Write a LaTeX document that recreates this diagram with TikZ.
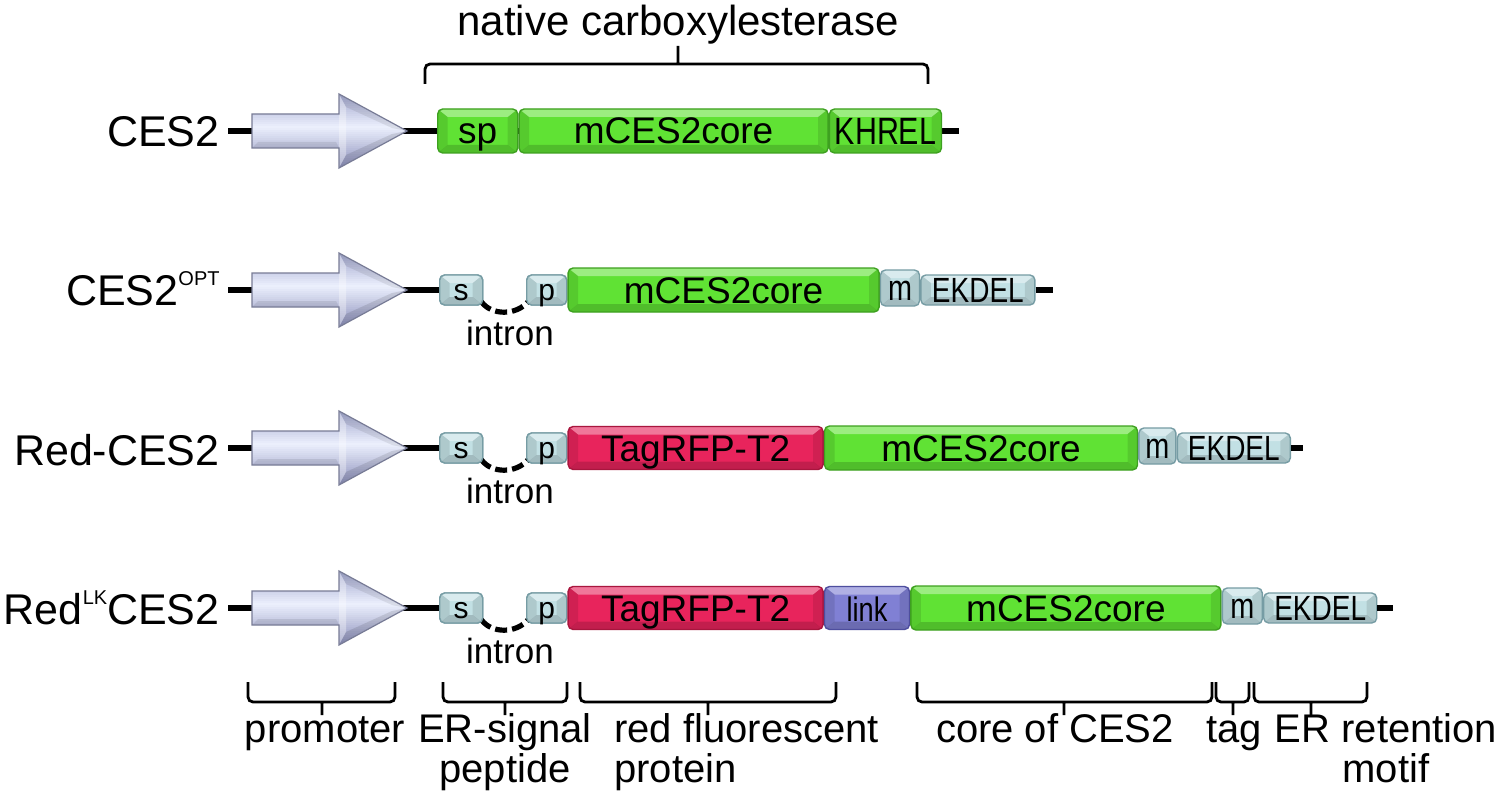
\documentclass[tikz,border=0pt]{standalone}
\usepackage{fontspec}
\setmainfont{Liberation Sans}
\newfontfamily\narrowf[FakeStretch=0.8]{Liberation Sans}
\definecolor{gfill}{RGB}{96,226,52}
\definecolor{gdraw}{RGB}{62,160,32}
\definecolor{rfill}{RGB}{232,36,92}
\definecolor{rdraw}{RGB}{168,22,62}
\definecolor{bfill}{RGB}{194,224,228}
\definecolor{bdraw}{RGB}{118,156,164}
\definecolor{lfill}{RGB}{128,128,212}
\definecolor{ldraw}{RGB}{78,78,158}
\definecolor{atop}{RGB}{160,165,205}
\definecolor{amid}{RGB}{236,240,253}
\definecolor{abot}{RGB}{138,142,186}
\definecolor{aedge}{RGB}{120,124,150}
\newcommand\bevelfacets{%
 \fill[white,opacity=.38,sharp corners] (path picture bounding box.north west) -- (path picture bounding box.north east) -- ([shift={(-5pt,-4pt)}]path picture bounding box.north east) -- ([shift={(5pt,-4pt)}]path picture bounding box.north west) -- cycle;
 \fill[black,opacity=.16,sharp corners] (path picture bounding box.south west) -- (path picture bounding box.south east) -- ([shift={(-5pt,4pt)}]path picture bounding box.south east) -- ([shift={(5pt,4pt)}]path picture bounding box.south west) -- cycle;
 \fill[black,opacity=.10,sharp corners] (path picture bounding box.north west) -- ([shift={(5pt,-4pt)}]path picture bounding box.north west) -- ([shift={(5pt,4pt)}]path picture bounding box.south west) -- (path picture bounding box.south west) -- cycle;
 \fill[black,opacity=.10,sharp corners] (path picture bounding box.north east) -- ([shift={(-5pt,-4pt)}]path picture bounding box.north east) -- ([shift={(-5pt,4pt)}]path picture bounding box.south east) -- (path picture bounding box.south east) -- cycle;}
\newcommand\promarrow[1]{%
 \begin{scope}
 \clip (252,#1-17) -- (339,#1-17) -- (339,#1-37) -- (407,#1) -- (339,#1+37) -- (339,#1+17) -- (252,#1+17) -- cycle;
 \foreach \i in {0,...,36}{%
   \pgfmathsetmacro\tt{(\i+0.5)/37}%
   \ifdim\tt pt<0.45pt
     \pgfmathtruncatemacro\pp{\tt/0.45*100}%
     \fill[amid!\pp!atop] (250,#1-37+2*\i) rectangle (410,#1-37+2*\i+2.4);
   \else
     \pgfmathtruncatemacro\pp{(\tt-0.45)/0.55*100}%
     \fill[abot!\pp!amid] (250,#1-37+2*\i) rectangle (410,#1-37+2*\i+2.4);
   \fi}
 \end{scope}
 \fill[white,opacity=.35] (339,#1-37) -- (346,#1-24) -- (346,#1+24) -- (339,#1+37) -- cycle;
 \fill[black,opacity=.10] (339,#1+37) -- (346,#1+24) -- (392,#1+3) -- (407,#1) -- cycle;
 \fill[black,opacity=.08] (339,#1-37) -- (346,#1-24) -- (392,#1-3) -- (407,#1) -- cycle;
 \fill[black,opacity=.08] (252,#1+17) -- (258,#1+11) -- (336,#1+11) -- (339,#1+17) -- cycle;
 \draw[aedge, line width=0.6pt, line join=miter]
  (252,#1-17) -- (339,#1-17) -- (339,#1-37) -- (407,#1) -- (339,#1+37) -- (339,#1+17) -- (252,#1+17) -- cycle;}
\newcommand\lowbrace[3]{\draw[brace] (#1,682) -- (#1,702) -- (#2,702) -- (#2,682) (#3,702) -- (#3,715);}
\begin{document}
\begin{tikzpicture}[x=0.5pt,y=-0.5pt,
  seg/.style={rounded corners=2.5pt, line width=0.7pt, inner sep=0pt, anchor=west, text depth=0pt, text height=13pt, path picture={\bevelfacets}},
  gseg/.style={seg, fill=gfill, draw=gdraw, minimum height=22pt, font=\fontsize{18.5}{18.5}\selectfont},
  rseg/.style={seg, fill=rfill, draw=rdraw, minimum height=21.5pt, font=\fontsize{18.5}{18.5}\selectfont},
  lseg/.style={seg, fill=lfill, draw=ldraw, minimum height=21.5pt, font=\narrowf\fontsize{17}{17}\selectfont},
  bseg/.style={seg, fill=bfill, draw=bdraw, minimum height=15pt, text height=10pt, font=\fontsize{15}{15}\selectfont},
  mseg/.style={seg, fill=bfill, draw=bdraw, minimum height=18pt, text height=12pt, font=\narrowf\fontsize{18}{18}\selectfont},
  eseg/.style={seg, fill=bfill, draw=bdraw, minimum height=15pt, text height=12.5pt, font=\narrowf\fontsize{17.5}{17.5}\selectfont},
  backbone/.style={line width=3.4pt, black},
  intronline/.style={line width=2.6pt, black, dash pattern=on 6pt off 2.5pt},
  brace/.style={line width=1.4pt, rounded corners=2.5pt},
  rowlbl/.style={anchor=base east, inner sep=0pt, font=\fontsize{21.5}{21.5}\selectfont},
  lbl/.style={anchor=base, inner sep=0pt, font=\fontsize{20}{20}\selectfont},
  introntxt/.style={anchor=base, inner sep=0pt, font=\fontsize{17.5}{17.5}\selectfont},
  toplbl/.style={anchor=base, inner sep=0pt, font=\fontsize{21}{21}\selectfont}]
\fill[white] (0,0) rectangle (1500,797);
\useasboundingbox (0,0) rectangle (1500,797);

% title
\node[toplbl] (title) at (678,36) {native carboxylesterase};
\draw[brace] (425,84) -- (425,64) -- (928,64) -- (928,84) (678,64) -- (678,46);

% ---------- Row 1
\coordinate (r1a) at (228,131);
\coordinate (r1b) at (959,131);
\draw[backbone] (r1a) -- (r1b);
\promarrow{131}
\node[gseg, minimum width=40pt] (r1sp) at (437,131) {sp};
\node[gseg, minimum width=154.5pt] (r1core) at (r1sp.east) {mCES2core};
\node[gseg, minimum width=56pt, text height=14pt, font=\narrowf\fontsize{19}{19}\selectfont] (r1kh) at (r1core.east) {KHREL};
\node[rowlbl] (n1) at (220,147) {CES2};

% ---------- Row 2
\coordinate (r2a) at (228,290);
\coordinate (r2b) at (1053,290);
\node[bseg, minimum width=21.5pt] (r2s) at (439,290) {s};
\node[bseg, minimum width=20pt] (r2p) at (526,290) {p};
\draw[backbone] (r2a) -- (r2s.west);
\draw[intronline] ([xshift=-1pt,yshift=2pt]r2s.south east) .. controls +(10,14) and +(-12,14) .. ([xshift=1pt,yshift=2pt]r2p.south west);
\promarrow{290}
\node[bseg, minimum width=21.5pt] (r2s) at (439,290) {s};
\node[bseg, minimum width=20pt] (r2p) at (526,290) {p};
\node[gseg, minimum width=155.5pt] (r2core) at (r2p.east) {mCES2core};
\node[mseg, minimum width=19.5pt] (r2m) at ([yshift=1pt]r2core.east) {m};
\node[eseg, minimum width=57pt] (r2ek) at (r2m.east |- r2core.east) {EKDEL};
\draw[backbone] (r2ek.east) -- (r2b);
\node[introntxt] (i2) at (510,345) {intron};
\node[rowlbl] (n2) at (220,305) {CES2\raisebox{10pt}{\fontsize{10}{10}\selectfont OPT}};

% ---------- Row 3
\coordinate (r3a) at (228,448);
\coordinate (r3b) at (1303,448);
\node[bseg, minimum width=21.5pt] (r3s) at (439,448) {s};
\node[bseg, minimum width=20pt] (r3p) at (526,448) {p};
\draw[backbone] (r3a) -- (r3s.west);
\draw[intronline] ([xshift=-1pt,yshift=2pt]r3s.south east) .. controls +(10,14) and +(-12,14) .. ([xshift=1pt,yshift=2pt]r3p.south west);
\promarrow{448}
\node[bseg, minimum width=21.5pt] (r3s) at (439,448) {s};
\node[bseg, minimum width=20pt] (r3p) at (526,448) {p};
\node[rseg, minimum width=127.5pt] (r3rfp) at (r3p.east) {TagRFP-T2};
\node[gseg, minimum width=156.5pt] (r3core) at (r3rfp.east) {mCES2core};
\node[mseg, minimum width=18.5pt] (r3m) at ([yshift=1pt]r3core.east) {m};
\node[eseg, minimum width=56.5pt] (r3ek) at (r3m.east |- r3core.east) {EKDEL};
\draw[backbone] (r3ek.east) -- (r3b);
\node[introntxt] (i3) at (510,503) {intron};
\node[rowlbl] (n3) at (220,465) {Red-CES2};

% ---------- Row 4
\coordinate (r4a) at (228,608);
\coordinate (r4b) at (1393,608);
\node[bseg, minimum width=21.5pt] (r4s) at (439,608) {s};
\node[bseg, minimum width=20pt] (r4p) at (526,608) {p};
\draw[backbone] (r4a) -- (r4s.west);
\draw[intronline] ([xshift=-1pt,yshift=2pt]r4s.south east) .. controls +(10,14) and +(-12,14) .. ([xshift=1pt,yshift=2pt]r4p.south west);
\promarrow{608}
\node[bseg, minimum width=21.5pt] (r4s) at (439,608) {s};
\node[bseg, minimum width=20pt] (r4p) at (526,608) {p};
\node[rseg, minimum width=127.5pt] (r4rfp) at (r4p.east) {TagRFP-T2};
\node[lseg, minimum width=42.5pt] (r4lk) at (r4rfp.east) {link};
\node[gseg, minimum width=155pt] (r4core) at (r4lk.east) {mCES2core};
\node[mseg, minimum width=20pt] (r4m) at ([yshift=1pt]r4core.east) {m};
\node[eseg, minimum width=56.5pt] (r4ek) at (r4m.east |- r4core.east) {EKDEL};
\draw[backbone] (r4ek.east) -- (r4b);
\node[introntxt] (i4) at (510,663) {intron};
\node[rowlbl] (n4) at (220,624) {Red\raisebox{10pt}{\fontsize{10}{10}\selectfont LK}CES2};

% ---------- bottom braces and labels (base of multi-line nodes = last line)
\lowbrace{248}{395}{322}
\lowbrace{443}{567}{505}
\lowbrace{580}{836}{708}
\lowbrace{917}{1212}{1064}
\lowbrace{1216}{1249}{1233}
\lowbrace{1254}{1367}{1311}
\node[lbl] (bprom) at (325,742) {promoter};
\node[lbl, align=center] (bsig) at (505,782) {ER-signal\\peptide};
\node[lbl, anchor=base west, align=left] (brfp) at (614,782) {red fluorescent\\protein};
\node[lbl] (bcore) at (1055,742) {core of CES2};
\node[lbl] (btag) at (1234,742) {tag};
\node[lbl, align=center] (bret) at (1386,782) {ER retention\\motif};
\end{tikzpicture}
\end{document}
